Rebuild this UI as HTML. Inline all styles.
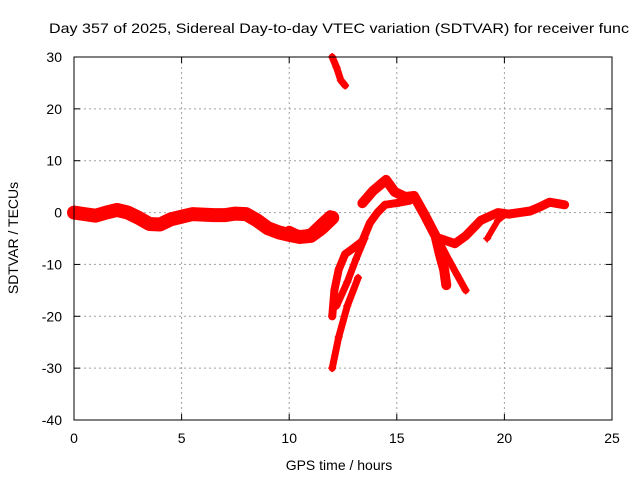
<!DOCTYPE html>
<html><head><meta charset="utf-8">
<style>
body{margin:0;background:#fff;}
svg{display:block;font-family:"Liberation Sans",Arial,sans-serif;}
</style></head>
<body>
<svg id="chart" width="640" height="480">
<text x="49" y="33" font-size="14" fill="#000" textLength="580" lengthAdjust="spacingAndGlyphs">Day 357 of 2025, Sidereal Day-to-day VTEC variation (SDTVAR) for receiver func</text>
<g id="grid"></g>
<g id="axes"></g>
<g id="series"></g>
<rect x="74" y="57" width="538" height="363" fill="none" stroke="#000" stroke-width="1"/>
<text x="339" y="470" font-size="14" text-anchor="middle">GPS time / hours</text>
<text transform="translate(18,238) rotate(-90)" font-size="14" text-anchor="middle">SDTVAR / TECUs</text>
</svg>
<script>
const xTicks=[0,5,10,15,20,25];
const yTicks=[30,20,10,0,-10,-20,-30,-40];
// series: [hour, TECU] vertices
const bandMain=[[0,0],[0.5,-0.3],[1,-0.6],[1.5,0],[2,0.5],[2.5,0],[3,-1],[3.5,-2.2],[4,-2.3],[4.5,-1.3],[5,-0.8],[5.5,-0.3],[6,-0.4],[6.5,-0.5],[7,-0.5],[7.5,-0.2],[8,-0.3],[8.5,-1.5],[9,-3],[9.5,-3.8],[10,-4.3],[10.5,-4.7],[11,-4.5],[11.5,-3],[12,-1]];
const bandLow=[[10,-3.5],[10.5,-4.5],[11,-4],[11.5,-2],[11.9,-0.5]];
const topPiece=[[12.0,30],[12.2,28],[12.4,25.5],[12.6,24.5]];
const leftBranch=[[12.0,-20],[12.1,-15],[12.3,-11],[12.6,-8],[13.0,-6.8],[13.4,-5.5],[13.75,-2],[14.1,0],[14.45,1.5],[15.1,1.9],[15.6,2.3]];
const midBranch=[[12.2,-18],[12.7,-13.4],[13.1,-9],[13.5,-5]];
const lowBranch=[[12.0,-30],[12.3,-24],[12.7,-18],[13.2,-12.6]];
const hump=[[13.4,1.8],[13.9,4.2],[14.5,6.3],[14.9,4],[15.4,3],[15.8,3.2],[16.3,-0.5],[16.8,-4.5],[17.0,-8],[17.2,-11],[17.3,-14]];
const rightFork=[[16.9,-5],[17.4,-9],[17.8,-12],[18.2,-15]];
const rightBand=[[17.0,-5],[17.7,-6],[18.2,-4.5],[18.9,-1.5],[19.7,0],[20.2,-0.3],[20.7,0],[21.2,0.3],[21.6,1],[22.1,2],[22.8,1.5]];
const rightSub=[[19.2,-5],[19.7,-1.5],[20.0,-0.5]];
const allSeries=[["band-main",bandMain,14],["band-low",bandLow,10],["top-piece",topPiece,7],["left-branch",leftBranch,8],["mid-branch",midBranch,7],["low-branch",lowBranch,7],["hump",hump,10],["right-fork",rightFork,7],["right-band",rightBand,9],["right-sub",rightSub,6]];
const X=h=>74+h*(538/25);
const Y=v=>57+(30-v)*(363/70);
const NS="http://www.w3.org/2000/svg";
const grid=document.getElementById('grid'),axes=document.getElementById('axes'),ser=document.getElementById('series');
function mk(tag,attrs,parent){const e=document.createElementNS(NS,tag);for(const k in attrs)e.setAttribute(k,attrs[k]);parent.appendChild(e);return e;}
xTicks.forEach(t=>{
 const x=X(t);
 if(t>0&&t<25){const g=mk('line',{x1:x,x2:x,y1:57,y2:420,stroke:'#a0a0a0','stroke-dasharray':'2,3'},grid);
 
 }
 const tk=mk('line',{x1:x,x2:x,y1:420,y2:414,stroke:'#000'},axes);
 
 
 const tk2=mk('line',{x1:x,x2:x,y1:57,y2:63,stroke:'#000'},axes);
 
 
 const l=mk('text',{x:x,y:443,'font-size':14,'text-anchor':'middle'},axes);l.textContent=t;
 
 
});
yTicks.forEach(t=>{
 const y=Y(t);
 if(t<30&&t>-40){const g=mk('line',{x1:74,x2:612,y1:y,y2:y,stroke:'#a0a0a0','stroke-dasharray':'2,3'},grid);
 
 }
 const tk=mk('line',{x1:74,x2:80,y1:y,y2:y,stroke:'#000'},axes);
 
 
 const tk2=mk('line',{x1:606,x2:612,y1:y,y2:y,stroke:'#000'},axes);
 
 
 const l=mk('text',{x:62,y:y+5,'font-size':14,'text-anchor':'end'},axes);l.textContent=t;
 
 
});
allSeries.forEach(([name,pts,w])=>{
 const g=mk('g',{},ser);
 
 
 const p=mk('polyline',{points:pts.map(d=>X(d[0])+','+Y(d[1])).join(' '),fill:'none',stroke:'#ff0000','stroke-width':w,'stroke-linejoin':'round','stroke-linecap':'round'},g);
 
 
 pts.forEach(d=>{
  const x=X(d[0]),y=Y(d[1]);
  const m=mk('path',{d:`M${x-4},${y}H${x+4}M${x},${y-4}V${y+4}`,stroke:'#ff0000','stroke-width':1.5},g);
  
  
 });
});
</script>
</body></html>
